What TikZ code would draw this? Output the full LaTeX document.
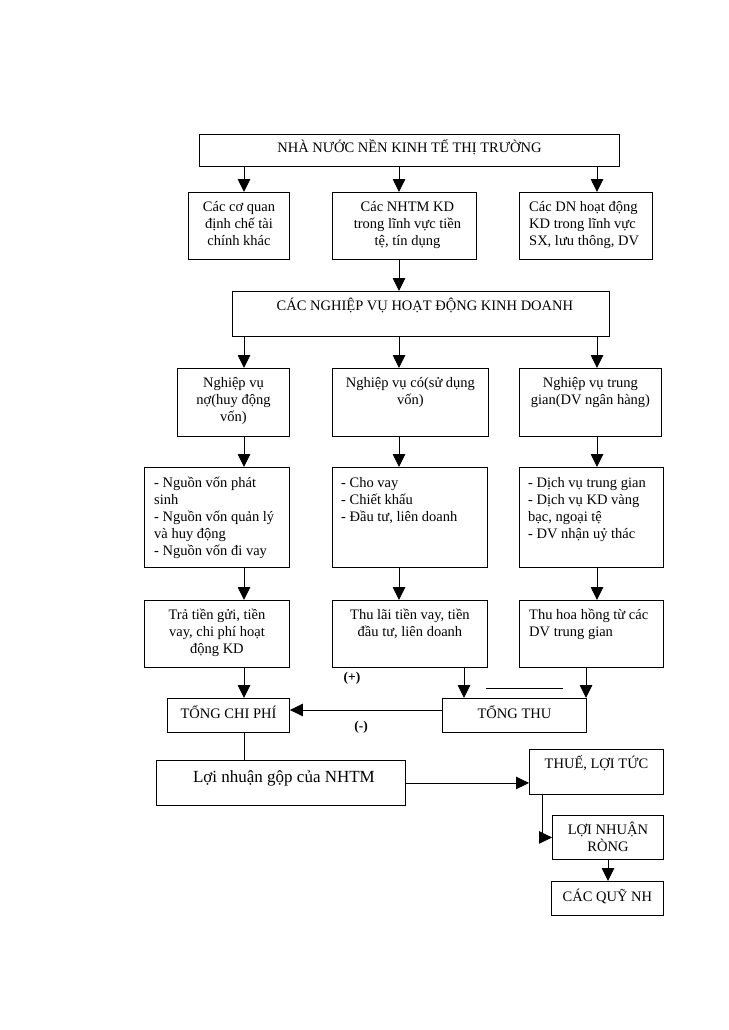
\documentclass[tikz,border=0pt]{standalone}
\usepackage{fontspec}
\setmainfont{Liberation Serif}
\usetikzlibrary{arrows.meta}
\newcommand\fl{\rule{0pt}{14.5pt}}
\tikzset{
  box/.style={draw, line width=0.9pt, inner sep=0pt, anchor=north west},
  txt/.style={inner sep=0pt, font=\fontsize{14.5}{17}\selectfont},
  ctxt/.style={txt, align=center, anchor=north},
  ltxt/.style={txt, align=left, anchor=north west},
  bigtxt/.style={inner sep=0pt, font=\fontsize{17}{20}\selectfont, align=center, anchor=north},
  arr/.style={line width=0.9pt, -{Triangle[length=13pt,width=12.5pt]}},
  ln/.style={line width=0.9pt},
  sign/.style={inner sep=0pt, font=\fontsize{13.5}{15}\selectfont\bfseries}
}
\newcommand\mkbox[5]{\node[box, minimum width={#4-#2}, minimum height={#5-#3}] (#1) at (#2,#3) {};}
\begin{document}
\begin{tikzpicture}[x=1pt,y=-1pt]
\fill[white] (0,0) rectangle (728,1030);
\useasboundingbox (0,0) rectangle (728,1030);
% boxes
\mkbox{T0}{199}{134}{619}{166}
\mkbox{a1}{188}{192}{289}{259}
\mkbox{a2}{332}{192}{476}{259}
\mkbox{a3}{519}{192}{652}{259}
\mkbox{B}{232}{291}{609}{336}
\mkbox{b1}{177}{368}{289}{436}
\mkbox{b2}{332}{368}{488}{436}
\mkbox{b3}{519}{368}{661}{436}
\mkbox{c1}{144}{467}{289}{567}
\mkbox{c2}{332}{467}{487}{567}
\mkbox{c3}{519}{467}{663}{567}
\mkbox{d1}{144}{600}{289}{667}
\mkbox{d2}{332}{600}{487}{667}
\mkbox{d3}{519}{600}{663}{667}
\mkbox{e1}{167}{698}{289}{732}
\mkbox{e2}{442}{698}{586}{732}
\mkbox{f}{156}{760}{405}{805}
\mkbox{g}{529}{749}{663}{794}
\mkbox{h}{552}{815}{663}{859}
\mkbox{i}{551}{881}{663}{915}
% texts
\node[ctxt] (T0t) at ([yshift=-4.3pt]T0.north) {\fl NHÀ NƯỚC NỀN KINH TẾ THỊ TRƯỜNG};
\node[ctxt] (a1t) at ([yshift=-4.3pt]a1.north) {\fl Các cơ quan\\định chế tài\\chính khác};
\node[ctxt] (a2t) at ([xshift=3pt,yshift=-4.3pt]a2.north) {\fl Các NHTM KD\\trong lĩnh vực tiền\\tệ, tín dụng};
\node[ltxt] (a3t) at ([xshift=10pt,yshift=-4.3pt]a3.north west) {\fl Các DN hoạt động\\KD trong lĩnh vực\\SX, lưu thông, DV};
\node[ctxt] (Bt) at ([xshift=4pt,yshift=-4.3pt]B.north) {\fl CÁC NGHIỆP VỤ HOẠT ĐỘNG KINH DOANH};
\node[ctxt] (b1t) at ([yshift=-4.3pt]b1.north) {\fl Nghiệp vụ\\nợ(huy động\\vốn)};
\node[ctxt] (b2t) at ([yshift=-4.3pt]b2.north) {\fl Nghiệp vụ có(sử dụng\\vốn)};
\node[ctxt] (b3t) at ([yshift=-4.3pt]b3.north) {\fl Nghiệp vụ trung\\gian(DV ngân hàng)};
\node[ltxt] (c1t) at ([xshift=10pt,yshift=-5.3pt]c1.north west) {\fl - Nguồn vốn phát\\sinh\\- Nguồn vốn quản lý\\và huy động\\- Nguồn vốn đi vay};
\node[ltxt] (c2t) at ([xshift=9pt,yshift=-5.3pt]c2.north west) {\fl - Cho vay\\- Chiết khấu\\- Đầu tư, liên doanh};
\node[ltxt] (c3t) at ([xshift=9pt,yshift=-5.3pt]c3.north west) {\fl - Dịch vụ trung gian\\- Dịch vụ KD vàng\\bạc, ngoại tệ\\- DV nhận uỷ thác};
\node[ctxt] (d1t) at ([yshift=-4.3pt]d1.north) {\fl Trả tiền gửi, tiền\\vay, chi phí hoạt\\động KD};
\node[ctxt] (d2t) at ([yshift=-4.3pt]d2.north) {\fl Thu lãi tiền vay, tiền\\đầu tư, liên doanh};
\node[ltxt] (d3t) at ([xshift=10pt,yshift=-4.3pt]d3.north west) {\fl Thu hoa hồng từ các\\DV trung gian};
\node[ctxt] (e1t) at ([yshift=-5.3pt]e1.north) {\fl TỔNG CHI PHÍ};
\node[ctxt] (e2t) at ([yshift=-5.3pt]e2.north) {\fl TỔNG THU};
\node[bigtxt] (ft) at ([xshift=3pt,yshift=-5.6pt]f.north) {\rule{0pt}{17pt}Lợi nhuận gộp của NHTM};
\node[ctxt] (gt) at ([yshift=-4.3pt]g.north) {\fl THUẾ, LỢI TỨC};
\node[ctxt] (ht) at ([yshift=-4.3pt]h.north) {\fl LỢI NHUẬN\\RÒNG};
\node[ctxt] (it) at ([yshift=-5.3pt]i.north) {\fl CÁC QUỸ NH};
\node[sign] (plus) at (352,678) {(+)};
\node[sign] (minus) at (361,727) {(-)};
% column coordinates
\coordinate (cA) at (244,0);
\coordinate (cB) at (399,0);
\coordinate (cC) at (597,0);
\coordinate (cD) at (464,0);
\coordinate (cE) at (586,0);
\coordinate (cF) at (542,0);
\coordinate (cG) at (608,0);
\coordinate (yM) at (0,710);
\coordinate (s1) at (486,688);
\coordinate (s2) at (563,688);
% connectors
\draw[arr] (T0.south -| cA) -- (a1.north -| cA);
\draw[arr] (T0.south -| cB) -- (a2.north -| cB);
\draw[arr] (T0.south -| cC) -- (a3.north -| cC);
\draw[arr] (a2.south -| cB) -- (B.north -| cB);
\draw[arr] (B.south -| cA) -- (b1.north -| cA);
\draw[arr] (B.south -| cB) -- (b2.north -| cB);
\draw[arr] (B.south -| cC) -- (b3.north -| cC);
\draw[arr] (b1.south -| cA) -- (c1.north -| cA);
\draw[arr] (b2.south -| cB) -- (c2.north -| cB);
\draw[arr] (b3.south -| cC) -- (c3.north -| cC);
\draw[arr] (c1.south -| cA) -- (d1.north -| cA);
\draw[arr] (c2.south -| cB) -- (d2.north -| cB);
\draw[arr] (c3.south -| cC) -- (d3.north -| cC);
\draw[arr] (d1.south -| cA) -- (e1.north -| cA);
\draw[arr] (d2.south -| cD) -- (e2.north -| cD);
\draw[arr] (d3.south -| cE) -- (e2.north -| cE);
\draw[arr] (e2.west |- yM) -- (e1.east |- yM);
\draw[ln] (s1) -- (s2);
\draw[ln] (e1.south -| cA) -- (f.north -| cA);
\draw[arr] (f.east) -- (f.east -| g.west);
\draw[arr] (g.south -| cF) |- (h.west);
\draw[arr] (h.south -| cG) -- (i.north -| cG);
\end{tikzpicture}
\end{document}
